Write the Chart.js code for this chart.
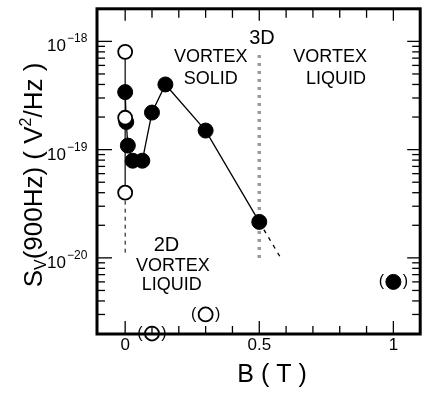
<!DOCTYPE html>
<html>
<head>
<meta charset="utf-8">
<script src="https://cdn.jsdelivr.net/npm/chart.js@4/dist/chart.umd.min.js"></script>
<style>
  html, body { margin: 0; padding: 0; background: #fff; }
  #wrap { width: 429px; height: 394px; }
</style>
</head>
<body>
<div id="wrap"><canvas id="c"></canvas></div>
<script>
// filled circles, joined by a solid line
const solidB = [0, 0.004, 0.01, 0.028, 0.064, 0.1, 0.15, 0.3, 0.5];
const solidS = [3.4e-19, 1.8e-19, 1.09e-19, 7.9e-20, 7.9e-20, 2.2e-19, 4.0e-19, 1.5e-19, 2.15e-20];
// open circles at B = 0
const openB = [0, 0, 0];
const openS = [8.0e-19, 1.97e-19, 4.0e-20];
// points in brackets
const brOpenB = [0.1, 0.3];
const brOpenS = [2.0e-21, 3.0e-21];
const brSolidB = [1];
const brSolidS = [6.0e-21];
// dashed continuations
const tailB = [0, 0];
const tailS = [4.0e-20, 1.1e-20];
const extB = [0.5, 0.58];
const extS = [2.15e-20, 1.0e-20];
// 2D/3D boundary (grey dotted)
const bndB = [0.5, 0.5];
const bndS = [7.5e-19, 9.0e-21];

const xTicks = [0, 0.5, 1];
const xTickLabels = ["0", "0.5", "1"];
const yTicks = [1e-18, 1e-19, 1e-20];
const yTickExp = ["\u221218", "\u221219", "\u221220"];

// region labels [text, B, S]
const regionLabels = [
  ["3D", 0.51, 1.06e-18],
  ["VORTEX", 0.319, 7.1e-19],
  ["SOLID", 0.319, 4.5e-19],
  ["VORTEX", 0.764, 7.2e-19],
  ["LIQUID", 0.786, 4.5e-19],
  ["2D", 0.154, 1.31e-20],
  ["VORTEX", 0.178, 8.35e-21],
  ["LIQUID", 0.174, 5.66e-21]
];

const pts = (xs, ys) => xs.map((v, i) => ({x: v, y: ys[i]}));
const FONT = "'Liberation Sans', Arial, Helvetica, sans-serif";

const framePlugin = {
  id: 'frame',
  afterDraw(chart) {
    const {ctx, chartArea: a, scales: {x, y}} = chart;
    ctx.save();
    ctx.strokeStyle = '#000';
    const seg = (x1, y1, x2, y2) => { ctx.beginPath(); ctx.moveTo(x1, y1); ctx.lineTo(x2, y2); ctx.stroke(); };

    // x ticks every 0.1, inward, top and bottom
    ctx.lineWidth = 1.3;
    for (let i = -1; i <= 11; i++) {
      const px = x.getPixelForValue(i / 10);
      if (px < a.left + 3 || px > a.right - 3) continue;
      const len = (i % 5 === 0) ? 13 : 8;
      seg(px, a.bottom, px, a.bottom - len);
      seg(px, a.top, px, a.top + (i % 5 === 0 ? 12 : 9));
    }
    // y log ticks, inward, left and right
    for (let e = -21; e <= -18; e++) {
      for (let m = 1; m <= 9; m++) {
        const v = m * Math.pow(10, e);
        const py = y.getPixelForValue(v);
        if (py < a.top + 3 || py > a.bottom - 3) continue;
        const len = m === 1 ? 15 : 8;
        seg(a.left, py, a.left + len, py);
        seg(a.right, py, a.right - (m === 1 ? 13 : 8), py);
      }
    }
    // frame
    ctx.lineWidth = 3;
    ctx.strokeRect(a.left, a.top, a.right - a.left, a.bottom - a.top);

    ctx.fillStyle = '#000';
    // x tick labels
    ctx.font = '17px ' + FONT;
    ctx.textAlign = 'center';
    ctx.textBaseline = 'alphabetic';
    xTicks.forEach((v, i) => ctx.fillText(xTickLabels[i], x.getPixelForValue(v), a.bottom + 16));

    // y tick labels 10^e
    yTicks.forEach((v, i) => {
      const py = y.getPixelForValue(v);
      ctx.font = '17px ' + FONT;
      ctx.textAlign = 'right';
      ctx.fillText('10', 66, py + 10);
      ctx.font = '12px ' + FONT;
      ctx.textAlign = 'left';
      ctx.fillText(yTickExp[i], 67, py + 1);
    });

    // x title
    ctx.font = '25px ' + FONT;
    ctx.textAlign = 'center';
    ctx.fillText('B ( T )', 272, 382);

    // y title, rotated
    ctx.save();
    ctx.translate(42, 175);
    ctx.rotate(-Math.PI / 2);
    const parts = [
      ['S', 26, 0], ['V', 16, 4], ['(900Hz) ( V', 26, 0], ['2', 16, -11], ['/Hz )', 26, 0]
    ];
    let total = 0;
    parts.forEach(p => { ctx.font = p[1] + 'px ' + FONT; total += ctx.measureText(p[0]).width; });
    let cx = -total / 2;
    ctx.textAlign = 'left';
    parts.forEach(p => {
      ctx.font = p[1] + 'px ' + FONT;
      ctx.fillText(p[0], cx, p[2]);
      cx += ctx.measureText(p[0]).width;
    });
    ctx.restore();

    // region labels
    ctx.textAlign = 'center';
    ctx.textBaseline = 'middle';
    regionLabels.forEach(l => {
      ctx.font = (l[0].length === 2 ? '20px ' : '18px ') + FONT;
      ctx.fillText(l[0], x.getPixelForValue(l[1]), y.getPixelForValue(l[2]));
    });

    // brackets round the doubtful points
    ctx.font = '16px ' + FONT;
    const bracket = (bx, sy) => {
      const px = x.getPixelForValue(bx), py = y.getPixelForValue(sy);
      ctx.fillText('(', px - 12, py);
      ctx.fillText(')', px + 12, py);
    };
    brOpenB.forEach((v, i) => bracket(v, brOpenS[i]));
    brSolidB.forEach((v, i) => bracket(v, brSolidS[i]));
    ctx.restore();
  }
};

new Chart(document.getElementById('c'), {
  type: 'scatter',
  data: {
    datasets: [
      {
        data: pts(openB, openS), showLine: true, borderColor: '#000', borderWidth: 1.2,
        pointRadius: 7, pointBackgroundColor: '#fff', pointBorderColor: '#000', pointBorderWidth: 1.8
      },
      {
        data: pts(brOpenB, brOpenS), clip: false,
        pointRadius: 7, pointBackgroundColor: '#fff', pointBorderColor: '#000', pointBorderWidth: 1.8
      },
      {
        data: pts(solidB, solidS), showLine: true, borderColor: '#000', borderWidth: 1.3,
        pointRadius: 7.5, pointBackgroundColor: '#000', pointBorderColor: '#000', pointBorderWidth: 1
      },
      {
        data: pts(brSolidB, brSolidS),
        pointRadius: 7.5, pointBackgroundColor: '#000', pointBorderColor: '#000', pointBorderWidth: 1
      },
      {
        data: pts(tailB, tailS), showLine: true, borderColor: '#000', borderWidth: 1,
        borderDash: [4, 4], pointRadius: 0
      },
      {
        data: pts(extB, extS), showLine: true, borderColor: '#000', borderWidth: 1.3,
        borderDash: [4, 5], pointRadius: 0
      },
      {
        data: pts(bndB, bndS), showLine: true, borderColor: '#9a9a9a', borderWidth: 3.5,
        borderDash: [3, 5], pointRadius: 0
      }
    ]
  },
  options: {
    responsive: true,
    maintainAspectRatio: false,
    animation: false,
    layout: { padding: { left: 97, right: 2, top: 5, bottom: 60 } },
    plugins: { legend: { display: false }, tooltip: { enabled: false } },
    scales: {
      x: { type: 'linear', min: -0.105, max: 1.1, display: false },
      y: { type: 'logarithmic', min: 1.98e-21, max: 2.0e-18, display: false }
    }
  },
  plugins: [framePlugin]
});
</script>
</body>
</html>
